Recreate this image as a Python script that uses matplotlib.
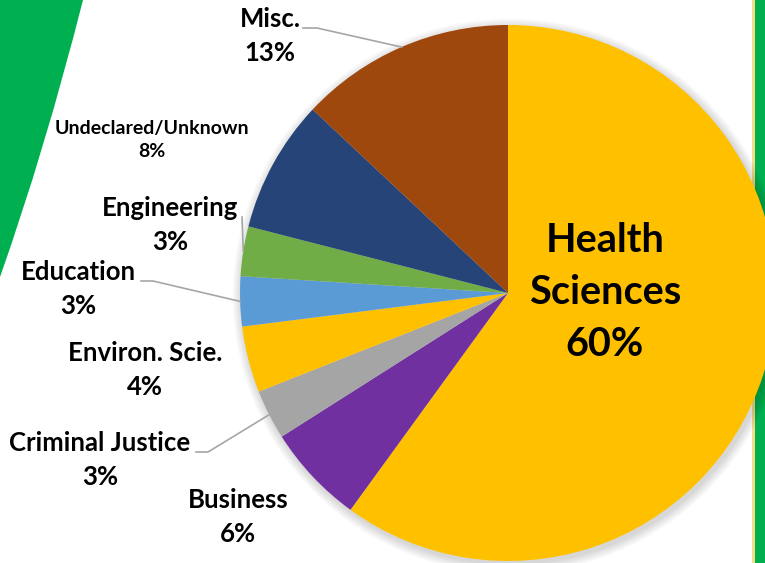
import numpy as np
import matplotlib.pyplot as plt
from matplotlib.patches import Circle, Rectangle, PathPatch
from matplotlib.path import Path

W, H = 765, 563

# data (clockwise from 12 o'clock)
categories = ['Health\nSciences', 'Business', 'Criminal Justice', 'Environ. Scie.',
              'Education', 'Engineering', 'Undeclared/Unknown', 'Misc.']
shares = [60, 6, 3, 4, 3, 3, 8, 13]
colors = ['#FFC000', '#7030A0', '#A5A5A5', '#FFC000',
          '#5B9BD5', '#70AD47', '#264478', '#9E480E']

plt.rcParams['font.family'] = ['Lato', 'DejaVu Sans']

# layout in pixel coords (y down)
CX, CY, R = 508, 293, 268
label_pos = {
    'Business': (238, 517),
    'Criminal Justice': (100, 460),
    'Environ. Scie.': (145, 370),
    'Education': (78, 289),
    'Engineering': (170, 225),
    'Undeclared/Unknown': (152, 140),
    'Misc.': (270, 36),
}
label_size = {'Undeclared/Unknown': 14}
# leader lines: text end, elbow
leaders = {
    'Misc.': [(303, 28), (317, 28)],
    'Education': [(141, 281), (153, 281)],
    'Criminal Justice': [(196, 452), (208, 452)],
    'Engineering': [(242, 217)],
}


def yy(y):
    return H - y


fig = plt.figure(figsize=(W / 100, H / 100), dpi=100)
ax = fig.add_axes([0, 0, 1, 1])

# green decoration, left
verts = [(0, yy(0)), (83, yy(0)), (45, yy(150)), (0, yy(277)), (0, yy(0))]
codes = [Path.MOVETO, Path.LINETO, Path.CURVE3, Path.CURVE3, Path.CLOSEPOLY]
ax.add_patch(PathPatch(Path(verts, codes), facecolor='#00B050', edgecolor='none'))
# right stripe
ax.add_patch(Rectangle((752, 0), 3, H, facecolor='#F3DE8A', edgecolor='none'))
ax.add_patch(Rectangle((755, 0), 10, H, facecolor='#00B050', edgecolor='none'))

# soft shadow
for k in range(8):
    ax.add_patch(Circle((CX + 2, yy(CY + 3)), R + 1 + k * 1.2, facecolor='black',
                        edgecolor='none', alpha=0.018, zorder=1))

wedges, _ = ax.pie(shares, colors=colors, startangle=90, counterclock=False,
                   center=(CX, yy(CY)), radius=R, frame=True,
                   wedgeprops=dict(linewidth=0))
ax.set_xlim(0, W)
ax.set_ylim(0, H)
ax.set_aspect('equal')
ax.axis('off')

for w, cat, val in zip(wedges, categories, shares):
    w.set_zorder(2)
    if cat.startswith('Health'):
        ax.text(605, yy(292), f'{cat}\n{val}%', ha='center', va='center',
                fontsize=28.5, fontweight='bold', linespacing=1.5, zorder=5)
        continue
    x, y = label_pos[cat]
    fs = label_size.get(cat, 18.5)
    ax.text(x, yy(y), f'{cat}\n{val}%', ha='center', va='center',
            fontsize=fs, fontweight='bold',
            linespacing=1.45 if fs < 15 else 1.5, zorder=5)
    if cat in leaders:
        mid = np.deg2rad((w.theta1 + w.theta2) / 2)
        px = CX + R * np.cos(mid)
        py = yy(CY) + R * np.sin(mid)
        pts = [(a, yy(b)) for a, b in leaders[cat]] + [(px, py)]
        xs, ys = zip(*pts)
        ax.plot(xs, ys, color='#A6A6A6', lw=1.2, zorder=4)

fig.savefig('out.png', dpi=100, facecolor='white')
